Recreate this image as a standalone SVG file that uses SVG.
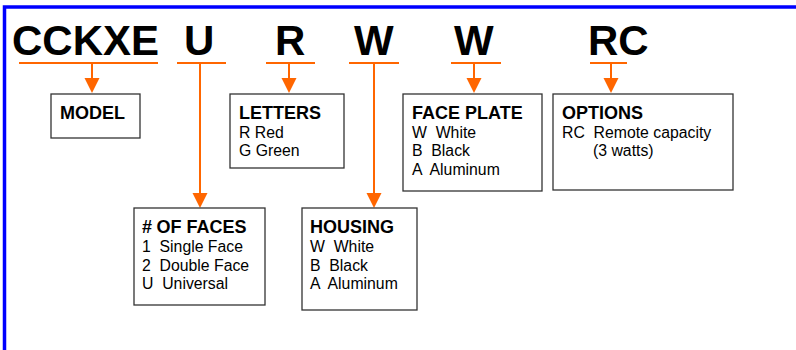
<svg xmlns="http://www.w3.org/2000/svg" width="796" height="350" viewBox="0 0 796 350">
<defs>
<style>
.big{font-family:"Liberation Sans",Arial,sans-serif;font-weight:bold;font-size:42px;fill:#000}
.title{font-family:"Liberation Sans",Arial,sans-serif;font-weight:bold;font-size:18px;fill:#000}
.item{font-family:"Liberation Sans",Arial,sans-serif;font-size:15.8px;fill:#000;white-space:pre}
.box{fill:#fff;stroke:#333;stroke-width:1.3}
.ul{stroke:#FF6600;stroke-width:2;fill:none}
.ar{fill:#FF6600;stroke:none}
</style>
</defs>
<rect width="796" height="350" fill="#fff"/>
<path d="M4.5 350 V7 H796" fill="none" stroke="#0000FF" stroke-width="3.5"/>
<g id="code">
<text class="big" x="12" y="55">CCKXE</text>
<text class="big" x="184" y="55">U</text>
<text class="big" x="275" y="55">R</text>
<text class="big" x="354" y="55">W</text>
<text class="big" x="454" y="55">W</text>
<text class="big" x="588" y="55">RC</text>
</g>
<g id="connectors">
<line class="ul" x1="19" y1="63" x2="158" y2="63"/>
<line class="ul" x1="177" y1="63" x2="226" y2="63"/>
<line class="ul" x1="266" y1="63" x2="315" y2="63"/>
<line class="ul" x1="349" y1="63" x2="399" y2="63"/>
<line class="ul" x1="451" y1="63" x2="501" y2="63"/>
<line class="ul" x1="590" y1="63" x2="627" y2="63"/>
<line class="ul" x1="92" y1="63" x2="92" y2="80"/>
<polygon class="ar" points="84.5,78 99.5,78 92,93"/>
<line class="ul" x1="289" y1="63" x2="289" y2="80"/>
<polygon class="ar" points="281.5,78 296.5,78 289,93"/>
<line class="ul" x1="474" y1="63" x2="474" y2="80"/>
<polygon class="ar" points="466.5,78 481.5,78 474,93"/>
<line class="ul" x1="611" y1="63" x2="611" y2="80"/>
<polygon class="ar" points="603.5,78 618.5,78 611,93"/>
<line class="ul" x1="200" y1="63" x2="200" y2="195"/>
<polygon class="ar" points="192.5,193 207.5,193 200,208"/>
<line class="ul" x1="374" y1="63" x2="374" y2="195"/>
<polygon class="ar" points="366.5,193 381.5,193 374,208"/>
</g>
<g id="model">
<rect class="box" x="51" y="94" width="89" height="44"/>
<text class="title" x="60" y="119">MODEL</text>
</g>
<g id="letters">
<rect class="box" x="230" y="94" width="114" height="74"/>
<text class="title" x="239" y="119">LETTERS</text>
<text class="item" x="239" y="137.5">R Red</text>
<text class="item" x="239" y="156">G Green</text>
</g>
<g id="faceplate">
<rect class="box" x="403" y="94" width="139" height="97"/>
<text class="title" x="412" y="119">FACE PLATE</text>
<text class="item" x="412" y="137.5">W  White</text>
<text class="item" x="412" y="156">B  Black</text>
<text class="item" x="412" y="174.5">A  Aluminum</text>
</g>
<g id="options">
<rect class="box" x="553" y="94" width="180" height="96"/>
<text class="title" x="562" y="119">OPTIONS</text>
<text class="item" x="562" y="137.5">RC  Remote capacity</text>
<text class="item" x="593" y="156">(3 watts)</text>
</g>
<g id="faces">
<rect class="box" x="134" y="208" width="131" height="97"/>
<text class="title" x="142" y="233">#<tspan dx="4.5">OF FACES</tspan></text>
<text class="item" x="142" y="252">1  Single Face</text>
<text class="item" x="142" y="270.5">2  Double Face</text>
<text class="item" x="142" y="289">U  Universal</text>
</g>
<g id="housing">
<rect class="box" x="302" y="208" width="115" height="102"/>
<text class="title" x="310" y="233">HOUSING</text>
<text class="item" x="310" y="252">W  White</text>
<text class="item" x="310" y="270.5">B  Black</text>
<text class="item" x="310" y="289">A  Aluminum</text>
</g>
</svg>
